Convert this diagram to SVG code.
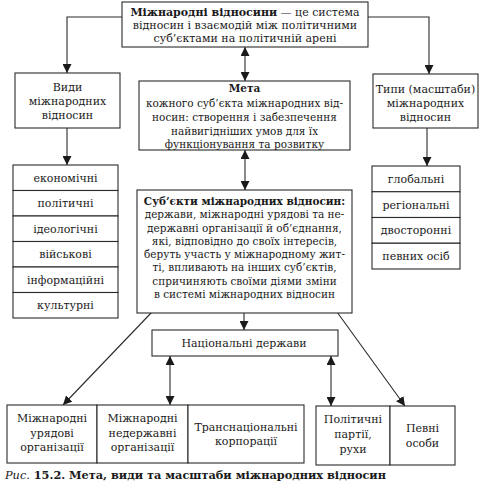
<svg xmlns="http://www.w3.org/2000/svg" width="483" height="495" viewBox="0 0 483 495">
<defs>
<marker id="ah" viewBox="0 0 10 10" refX="10" refY="5" markerWidth="9" markerHeight="9" markerUnits="userSpaceOnUse" orient="auto-start-reverse">
<path d="M0,0 L10,5 L0,10 z" fill="#1a1a1a"/>
</marker>
<style>
.box{fill:#fff;stroke:#2a2a2a;stroke-width:1.1}
.ln{fill:none;stroke:#2a2a2a;stroke-width:1.1}
text{font-family:"DejaVu Serif","Liberation Serif",serif;font-size:10.5px;fill:#1a1a1a;text-anchor:middle}
.b{font-weight:bold}
.m{font-size:11px}
.cap{text-anchor:start;font-size:11.3px;font-weight:bold}
</style>
</defs>
<rect width="483" height="495" fill="#fff"/>

<g id="connectors">
<path class="ln" d="M122,17 H67 V73" marker-end="url(#ah)"/>
<path class="ln" d="M368,17 H429 V74" marker-end="url(#ah)"/>
<path class="ln" d="M245,47 V81" marker-start="url(#ah)" marker-end="url(#ah)"/>
<path class="ln" d="M67,128 V165" marker-end="url(#ah)"/>
<path class="ln" d="M427,128 V166" marker-end="url(#ah)"/>
<path class="ln" d="M245,150 V190" marker-start="url(#ah)" marker-end="url(#ah)"/>
<path class="ln" d="M152,312 L63,405" marker-end="url(#ah)"/>
<path class="ln" d="M244,313 V330" marker-end="url(#ah)"/>
<path class="ln" d="M337,312 L405,406" marker-end="url(#ah)"/>
<path class="ln" d="M170,356 V405" marker-start="url(#ah)" marker-end="url(#ah)"/>
<path class="ln" d="M331,356 V406" marker-start="url(#ah)" marker-end="url(#ah)"/>
</g>

<g id="top">
<rect class="box" x="122" y="2" width="246" height="45"/>
<text class="m" x="245" y="16"><tspan class="b">Міжнародні відносини</tspan> — це система</text>
<text class="m" x="245" y="29">відносин і взаємодій між політичними</text>
<text class="m" x="245" y="42">суб’єктами на політичній арені</text>
</g>

<g id="vydy">
<rect class="box" x="15" y="73" width="105" height="55"/>
<text class="m" x="67.5" y="91">Види</text>
<text class="m" x="67.5" y="105">міжнародних</text>
<text class="m" x="67.5" y="119">відносин</text>
</g>

<g id="meta">
<rect class="box" x="139" y="81" width="211" height="69"/>
<text class="b" x="244.5" y="92">Мета</text>
<text x="244.5" y="107">кожного суб’єкта міжнародних від-</text>
<text x="244.5" y="121">носин: створення і забезпечення</text>
<text x="244.5" y="135">найвигідніших умов для їх</text>
<text x="244.5" y="148">функціонування та розвитку</text>
</g>

<g id="typy">
<rect class="box" x="373" y="74" width="105" height="54"/>
<text class="m" x="425.5" y="93">Типи (масштаби)</text>
<text class="m" x="425.5" y="107">міжнародних</text>
<text class="m" x="425.5" y="121">відносин</text>
</g>

<g id="vydy-list">
<rect class="box" x="13" y="165" width="105" height="25.5"/>
<rect class="box" x="13" y="190.5" width="105" height="25.5"/>
<rect class="box" x="13" y="216" width="105" height="25.5"/>
<rect class="box" x="13" y="241.5" width="105" height="25.5"/>
<rect class="box" x="13" y="267" width="105" height="25.5"/>
<rect class="box" x="13" y="292.5" width="105" height="25.5"/>
<text class="m" x="65.5" y="181.5">економічні</text>
<text class="m" x="65.5" y="207">політичні</text>
<text class="m" x="65.5" y="232.5">ідеологічні</text>
<text class="m" x="65.5" y="258">військові</text>
<text class="m" x="65.5" y="283.5">інформаційні</text>
<text class="m" x="65.5" y="309">культурні</text>
</g>

<g id="typy-list">
<rect class="box" x="372" y="166" width="88" height="25.75"/>
<rect class="box" x="372" y="191.75" width="88" height="25.75"/>
<rect class="box" x="372" y="217.5" width="88" height="25.75"/>
<rect class="box" x="372" y="243.25" width="88" height="25.75"/>
<text class="m" x="416" y="182.5">глобальні</text>
<text class="m" x="416" y="208.5">регіональні</text>
<text class="m" x="416" y="234">двосторонні</text>
<text class="m" x="416" y="260">певних осіб</text>
</g>

<g id="subjekty">
<rect class="box" x="137" y="190" width="215" height="123"/>
<text class="b" x="244.5" y="205">Суб’єкти міжнародних відносин:</text>
<text x="244.5" y="218">держави, міжнародні урядові та не-</text>
<text x="244.5" y="232">державні організації й об’єднання,</text>
<text x="244.5" y="245">які, відповідно до своїх інтересів,</text>
<text x="244.5" y="258">беруть участь у міжнародному жит-</text>
<text x="244.5" y="271">ті, впливають на інших суб’єктів,</text>
<text x="244.5" y="285">спричиняють своїми діями зміни</text>
<text x="244.5" y="298">в системі міжнародних відносин</text>
</g>

<g id="nat">
<rect class="box" x="152" y="330" width="186" height="26"/>
<text class="m" x="244" y="347">Національні держави</text>
</g>

<g id="bottom-left">
<rect class="box" x="7" y="405" width="90" height="58"/>
<rect class="box" x="97" y="405" width="91" height="58"/>
<rect class="box" x="188" y="405" width="116" height="58"/>
<text class="m" x="52" y="422">Міжнародні</text>
<text class="m" x="52" y="437">урядові</text>
<text class="m" x="52" y="451">організації</text>
<text class="m" x="142.5" y="422">Міжнародні</text>
<text class="m" x="142.5" y="437">недержавні</text>
<text class="m" x="142.5" y="451">організації</text>
<text class="m" x="246" y="431">Транснаціональні</text>
<text class="m" x="246" y="445">корпорації</text>
</g>

<g id="bottom-right">
<rect class="box" x="316" y="406" width="74" height="59"/>
<rect class="box" x="390" y="406" width="65" height="59"/>
<text class="m" x="353" y="423">Політичні</text>
<text class="m" x="353" y="438">партії,</text>
<text class="m" x="353" y="453">рухи</text>
<text class="m" x="422.5" y="432">Певні</text>
<text class="m" x="422.5" y="447">особи</text>
</g>

<text class="cap" x="5" y="479"><tspan font-style="italic" font-weight="normal">Рис.</tspan> 15.2. Мета, види та масштаби міжнародних відносин</text>
</svg>
